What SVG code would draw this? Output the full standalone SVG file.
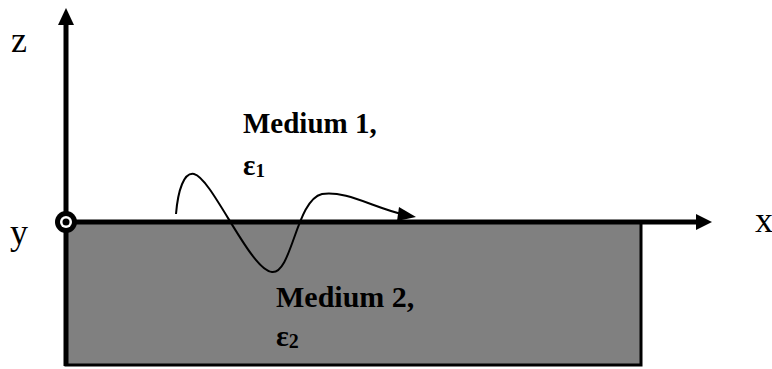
<svg xmlns="http://www.w3.org/2000/svg" width="772" height="369" viewBox="0 0 772 369">
<style>
.lbl{font-family:'Liberation Serif','Times New Roman','DejaVu Serif',serif;font-size:36px;fill:#000}
.med{font-family:'Liberation Serif','Times New Roman','DejaVu Serif',serif;font-weight:bold;fill:#000}
.ax{stroke:#000;stroke-width:5;fill:none}
</style>
<g id="medium2">
<rect x="66" y="222" width="575" height="143" fill="#808080" stroke="#000" stroke-width="3"/>
<text class="med" x="276" y="307" font-size="30">Medium 2,</text>
<text class="med" x="276" y="346" font-size="30">ε<tspan font-size="20" dy="2">2</tspan></text>
</g>
<g id="medium1">
<text class="med" x="243" y="133" font-size="29">Medium 1,</text>
<text class="med" x="243" y="175" font-size="29">ε<tspan font-size="19" dy="2">1</tspan></text>
</g>
<g id="connectors">
<line class="ax" x1="66" y1="366" x2="66" y2="24"/>
<path d="M58,25 L66,8 L74,25 Z" fill="#000"/>
<line class="ax" x1="66" y1="222" x2="697" y2="222"/>
<path d="M696,214 L712,222 L696,230 Z" fill="#000"/>
<path d="M176,214 C178,190 184,172 194,174 C212,178 250,270 272,272 C292,274 296,200 322,194 C345,190 375,208 402,214" fill="none" stroke="#000" stroke-width="2"/>
<path d="M399,207 L416,217 L397,221 Z" fill="#000"/>
</g>
<g id="origin">
<circle cx="66" cy="222" r="11" fill="#000"/>
<circle cx="66" cy="222" r="6" fill="#fff"/>
<circle cx="66" cy="222" r="3.5" fill="#000"/>
</g>
<g id="labels">
<text class="lbl" x="11" y="52">z</text>
<text class="lbl" x="10" y="244">y</text>
<text class="lbl" x="755" y="232">x</text>
</g>
</svg>
